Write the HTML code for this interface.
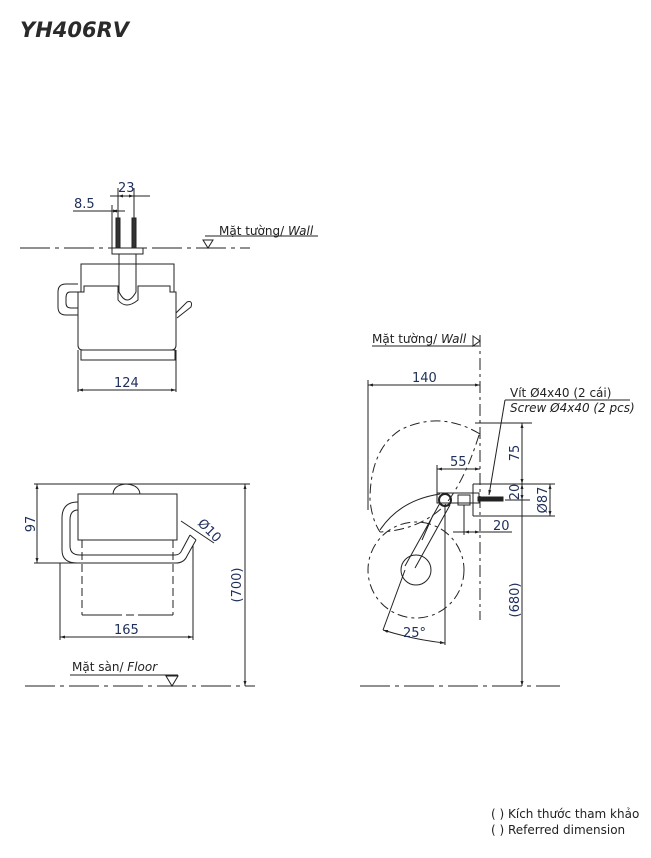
<!DOCTYPE html>
<html><head><meta charset="utf-8"><style>
html,body{margin:0;padding:0;background:#fff;width:651px;height:858px;overflow:hidden}
text{font-family:"DejaVu Sans","Liberation Sans",sans-serif;fill:#222}
.d{fill:#1e2f5a;font-size:13px}
</style></head><body>
<svg width="651" height="858" viewBox="0 0 651 858" xmlns="http://www.w3.org/2000/svg">
<defs>
<marker id="a" viewBox="0 0 10 10" refX="10" refY="5" markerWidth="7" markerHeight="5" orient="auto-start-reverse"><path d="M0,2 L10,5 L0,8z" fill="#222"/></marker>
</defs>
<text x="20" y="37" font-size="21" font-weight="bold" font-style="italic" fill="#2a2a2a" style="fill:#2a2a2a">YH406RV</text>

<g stroke="#222" stroke-width="1" fill="none">
<!-- TOP VIEW -->
<line x1="20" y1="248" x2="250" y2="248" stroke-dasharray="30,5,4,5"/>
<line x1="118" y1="188" x2="118" y2="248"/>
<line x1="134" y1="188" x2="134" y2="248"/>
<line x1="110" y1="196" x2="150" y2="196"/>
<line x1="118" y1="196" x2="134" y2="196" marker-start="url(#a)" marker-end="url(#a)"/>
<line x1="73" y1="211" x2="125" y2="211"/>
<line x1="112" y1="205" x2="112" y2="248"/>
<line x1="112" y1="211" x2="118" y2="211" marker-start="url(#a)" marker-end="url(#a)"/>
<rect x="116" y="218" width="4" height="30" fill="#333"/>
<rect x="132" y="218" width="4" height="30" fill="#333"/>
<rect x="112" y="248" width="31" height="6"/>
<rect x="81" y="264" width="93" height="86"/>
<path d="M78,292 L78,345 Q78,350 83,350 L171,350 Q176,350 176,345 L176,292 L170,292 L170,286 L138,286 L138,300 Q126,310 118,300 L118,286 L84,286 L84,292z" fill="#fff"/>
<path d="M119,254 L119,292 Q127,308 136,292 L136,254"/>
<path d="M78,284 L66,284 Q58,284 58,292 L58,307 Q58,315 66,315 L78,315 M78,292 L70,292 Q66,292 66,298 L66,303 Q66,308 71,308 L78,308"/>
<path d="M176,313 L187,302 Q193,300 191,307 L177,318"/>
<rect x="81" y="350" width="94" height="10"/>
<line x1="78" y1="350" x2="78" y2="392"/><line x1="176" y1="350" x2="176" y2="392"/>
<line x1="78" y1="390" x2="176" y2="390" marker-start="url(#a)" marker-end="url(#a)"/>
<line x1="205" y1="236" x2="318" y2="236"/>
<path d="M203,240 L213,240 L208,248z"/>

<!-- FRONT VIEW -->
<line x1="34" y1="484" x2="250" y2="484"/>
<line x1="37" y1="484" x2="37" y2="563" marker-start="url(#a)" marker-end="url(#a)"/>
<line x1="34" y1="563" x2="80" y2="563"/>
<path d="M113,495 Q113,485 126,484 Q140,485 140,495"/>
<path d="M117,497 Q126,502 136,497"/>
<rect x="78" y="494" width="99" height="46" fill="#fff"/>
<path d="M78,502 Q62,502 62,518 L62,550 Q62,563 77,563 L176,563 Q184,563 187,556 L196,540 M78,510 Q70,510 70,520 L70,546 Q70,555 80,555 L175,555 Q180,555 182,550 L190,535"/>
<line x1="190" y1="535" x2="196" y2="540"/>
<line x1="181" y1="521" x2="214" y2="543" />
<line x1="82" y1="540" x2="82" y2="615" stroke-dasharray="8,4"/>
<line x1="173" y1="540" x2="173" y2="615" stroke-dasharray="8,4"/>
<line x1="82" y1="615" x2="173" y2="615" stroke-dasharray="40,4,8,4"/>
<line x1="60" y1="563" x2="60" y2="640"/><line x1="193" y1="545" x2="193" y2="640"/>
<line x1="60" y1="637" x2="193" y2="637" marker-start="url(#a)" marker-end="url(#a)"/>
<line x1="245" y1="484" x2="245" y2="686" marker-start="url(#a)" marker-end="url(#a)"/>
<line x1="25" y1="686" x2="255" y2="686" stroke-dasharray="30,5,4,5"/>
<line x1="70" y1="675" x2="178" y2="675"/>
<path d="M166,676 L178,676 L172,686z"/>

<!-- SIDE VIEW -->
<line x1="480" y1="335" x2="480" y2="620" stroke-dasharray="12,4,3,4"/>
<line x1="372" y1="346" x2="479" y2="346"/>
<path d="M473,336 L480,341 L473,346z"/>
<line x1="368" y1="380" x2="368" y2="510"/>
<line x1="368" y1="385" x2="480" y2="385" marker-start="url(#a)" marker-end="url(#a)"/>
<path d="M480,434 Q440,410 400,430 Q370,450 370,500 Q372,520 380,532" stroke-dasharray="10,4,3,4"/>
<path d="M479,435 Q465,480 445,505 Q420,530 380,532" stroke-dasharray="10,4,3,4"/>
<path d="M440,494 Q400,500 380,530" />
<circle cx="416" cy="570" r="48" stroke-dasharray="10,4,3,4"/>
<circle cx="416" cy="570" r="15"/>
<rect x="437" y="493" width="42" height="10"/>
<circle cx="445" cy="500" r="6" stroke-width="2"/>
<path d="M440,503 L405,566 M450,505 L415,568 M433,515 L422,540"/>
<line x1="445" y1="505" x2="445" y2="645"/>
<line x1="437" y1="465" x2="437" y2="495"/>
<line x1="437" y1="469" x2="480" y2="469" marker-start="url(#a)" marker-end="url(#a)"/>
<rect x="458" y="495" width="12" height="10"/>
<line x1="464" y1="505" x2="464" y2="535"/>
<line x1="453" y1="532" x2="512" y2="532"/>
<line x1="464" y1="532" x2="480" y2="532" marker-start="url(#a)" marker-end="url(#a)"/>
<path d="M473,484 L555,484 M473,516 L555,516 M473,484 L473,516"/>
<rect x="478" y="497" width="25" height="4" fill="#222"/>
<line x1="475" y1="423" x2="532" y2="423"/>
<line x1="522" y1="423" x2="522" y2="484" marker-start="url(#a)" marker-end="url(#a)"/>
<line x1="522" y1="484" x2="522" y2="500" marker-start="url(#a)" marker-end="url(#a)"/>
<line x1="505" y1="500" x2="530" y2="500"/>
<line x1="522" y1="500" x2="522" y2="686" marker-end="url(#a)"/>
<line x1="550" y1="484" x2="550" y2="516" marker-start="url(#a)" marker-end="url(#a)"/>
<line x1="505" y1="400" x2="630" y2="400"/>
<line x1="505" y1="400" x2="489" y2="495" marker-end="url(#a)"/>
<line x1="405" y1="570" x2="383" y2="630"/>
<path d="M383,630 Q415,640 445,643" marker-start="url(#a)" marker-end="url(#a)"/>
<line x1="360" y1="686" x2="560" y2="686" stroke-dasharray="30,5,4,5"/>
</g>

<text x="219" y="235" font-size="12">Mặt tường/ <tspan font-style="italic">Wall</tspan></text>
<text class="d" x="118" y="192">23</text>
<text class="d" x="74" y="208">8.5</text>
<text class="d" x="114" y="387">124</text>
<text class="d" transform="translate(35,524) rotate(-90)" text-anchor="middle">97</text>
<text class="d" x="114" y="634">165</text>
<text class="d" transform="translate(241,585) rotate(-90)" text-anchor="middle">(700)</text>
<text class="d" transform="translate(197,524) rotate(45)" font-size="11">Ø10</text>
<text x="72" y="671" font-size="12">Mặt sàn/ <tspan font-style="italic">Floor</tspan></text>
<text x="372" y="343" font-size="12">Mặt tường/ <tspan font-style="italic">Wall</tspan></text>
<text class="d" x="412" y="382">140</text>
<text class="d" x="450" y="466">55</text>
<text x="510" y="397" font-size="12">Vít Ø4x40 (2 cái)</text>
<text x="510" y="412" font-size="12" font-style="italic">Screw Ø4x40 (2 pcs)</text>
<text class="d" transform="translate(519,453) rotate(-90)" text-anchor="middle">75</text>
<text class="d" transform="translate(519,492) rotate(-90)" text-anchor="middle">20</text>
<text class="d" transform="translate(547,500) rotate(-90)" text-anchor="middle">Ø87</text>
<text class="d" x="493" y="530">20</text>
<text class="d" transform="translate(519,600) rotate(-90)" text-anchor="middle">(680)</text>
<text class="d" x="403" y="637">25°</text>
<text x="491" y="818" font-size="12">( ) Kích thước tham khảo</text>
<text x="491" y="834" font-size="12">( ) Referred dimension</text>
</svg>
</body></html>
